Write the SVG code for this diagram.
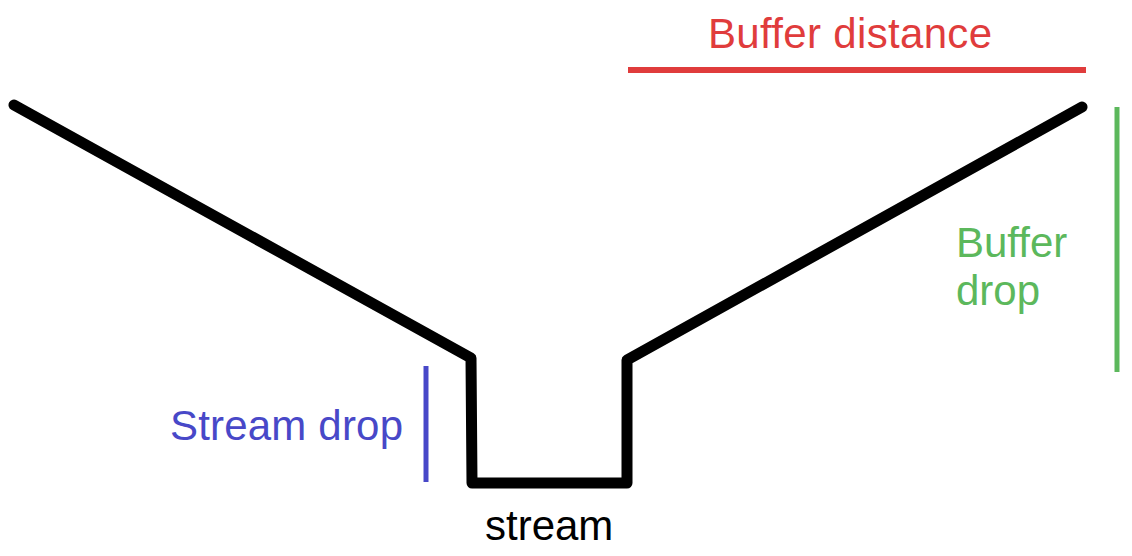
<svg xmlns="http://www.w3.org/2000/svg" width="1132" height="556" viewBox="0 0 1132 556">
<style>
text{font-family:"Liberation Sans",Arial,sans-serif;font-size:42px}
.red{fill:#e03c3c}.blue{fill:#4848c8}.green{fill:#5cb85c}.black{fill:#000}
</style>
<rect width="1132" height="556" fill="#fff"/>
<g id="profile">
<path d="M14,105 L471,358 L472,483 L627,483 L627,360 L1082,107" fill="none" stroke="#000" stroke-width="11" stroke-linejoin="round" stroke-linecap="round"/>
</g>
<g id="connectors">
<line x1="628" y1="70" x2="1086" y2="70" stroke="#e03c3c" stroke-width="6"/>
<line x1="426" y1="366" x2="426" y2="482" stroke="#4848c8" stroke-width="5"/>
<line x1="1117" y1="107" x2="1117" y2="372" stroke="#5cb85c" stroke-width="5"/>
</g>
<g id="label-buffer-distance"><text class="red" x="708" y="48" textLength="284">Buffer distance</text></g>
<g id="label-buffer-drop"><text class="green" x="956" y="257">Buffer</text><text class="green" x="956" y="305">drop</text></g>
<g id="label-stream-drop"><text class="blue" x="170" y="440" textLength="233">Stream drop</text></g>
<g id="label-stream"><text class="black" x="485" y="540">stream</text></g>
</svg>
